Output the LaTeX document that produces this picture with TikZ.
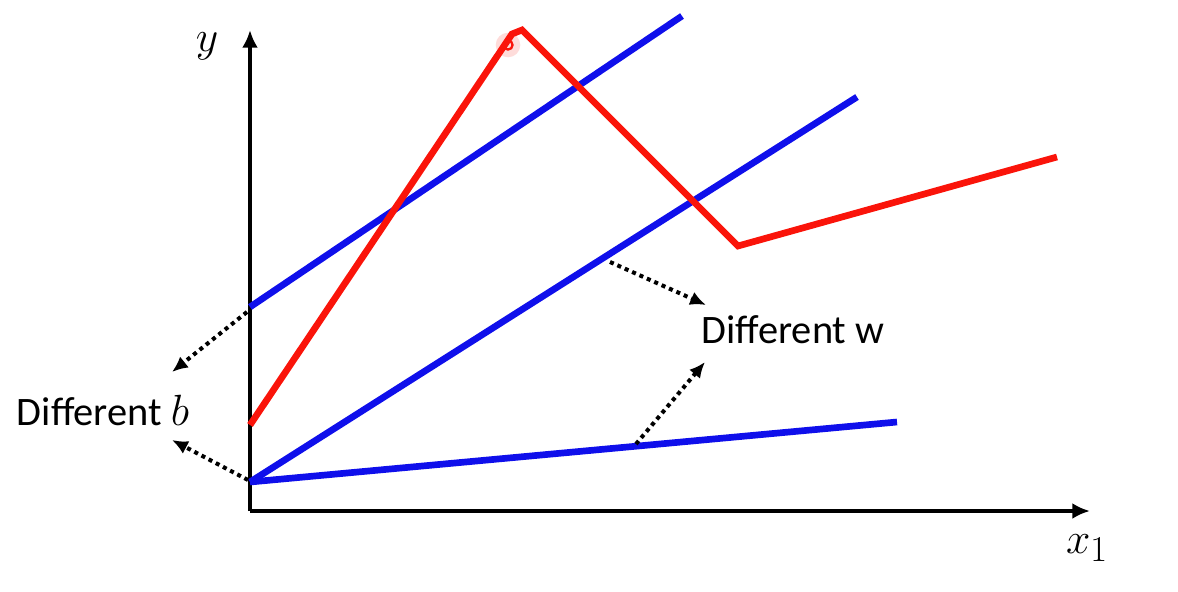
\documentclass[tikz,border=0pt]{standalone}
\usepackage{amsmath, amssymb}
\usepackage{fontspec}
\setmainfont{Carlito}
\usetikzlibrary{arrows.meta, positioning, calc}

\definecolor{lineblue}{RGB}{15,15,235}
\definecolor{linered}{RGB}{250,20,10}

\tikzset{
  axis/.style={line width=2.3pt, -{Latex[length=10pt, width=9pt]}},
  blueline/.style={lineblue, line width=3.8pt},
  redline/.style={linered, line width=3.8pt, line join=miter},
  hint/.style={line width=2.3pt, dash pattern=on 2.3pt off 2.3pt, -{Latex[length=9pt, width=8pt]}},
  lbl/.style={font=\fontsize{23}{27}\selectfont, inner sep=0pt},
  axlbl/.style={font=\fontsize{31}{36}\selectfont, inner sep=0pt}
}

\begin{document}
\begin{tikzpicture}[x=0.02cm, y=-0.02cm]
  \useasboundingbox (0,0) rectangle (1178,592);

  % Axes
  \coordinate (O) at (250,511);
  \coordinate (Ytop) at (250,30);
  \coordinate (Xend) at (1090,511);
  \draw[axis] (O) -- (Ytop);
  \draw[axis] (O) -- (Xend);
  \node[axlbl] (ylab) at (207,46) {$y$};
  \node[axlbl] (xlab) at (1087,548) {$x_1$};

  % Blue lines
  \coordinate (B1) at (250,307);
  \coordinate (B1e) at (682,16);
  \coordinate (B2) at (250,482);
  \coordinate (B2e) at (857,97);
  \coordinate (B3e) at (897,422);
  \draw[blueline] (B1) -- (B1e);
  \draw[blueline] (B2) -- (B2e);
  \draw[blueline] (B2) -- (B3e);

  % Red line
  \coordinate (R0) at (250,425);
  \coordinate (R1) at (512,34);
  \coordinate (R2) at (522,30);
  \coordinate (R3) at (738,246);
  \coordinate (R4) at (1057,157);
  \draw[redline] (R0) -- (R1) -- (R2) -- (R3) -- (R4);

  % Pointer
  \coordinate (P) at (508,45);
  \fill[linered, opacity=0.15] (P) circle[radius=7pt];
  \draw[linered, line width=1.3pt] (P) circle[radius=2.6pt];

  % Labels
  \node[lbl] (diffb) at (103,410) {Different $b$};
  \node[lbl] (diffw) at (793,330) {Different w};

  % Hints
  \coordinate (hb1) at (247,312);
  \coordinate (hb1e) at (172,372);
  \coordinate (hb2) at (248,480);
  \coordinate (hb2e) at (172,440);
  \coordinate (hw1) at (610,262);
  \coordinate (hw1e) at (706,305);
  \coordinate (hw2) at (636,444);
  \coordinate (hw2e) at (705,362);
  \draw[hint] (hb1) -- (hb1e);
  \draw[hint] (hb2) -- (hb2e);
  \draw[hint] (hw1) -- (hw1e);
  \draw[hint] (hw2) -- (hw2e);
\end{tikzpicture}
\end{document}
